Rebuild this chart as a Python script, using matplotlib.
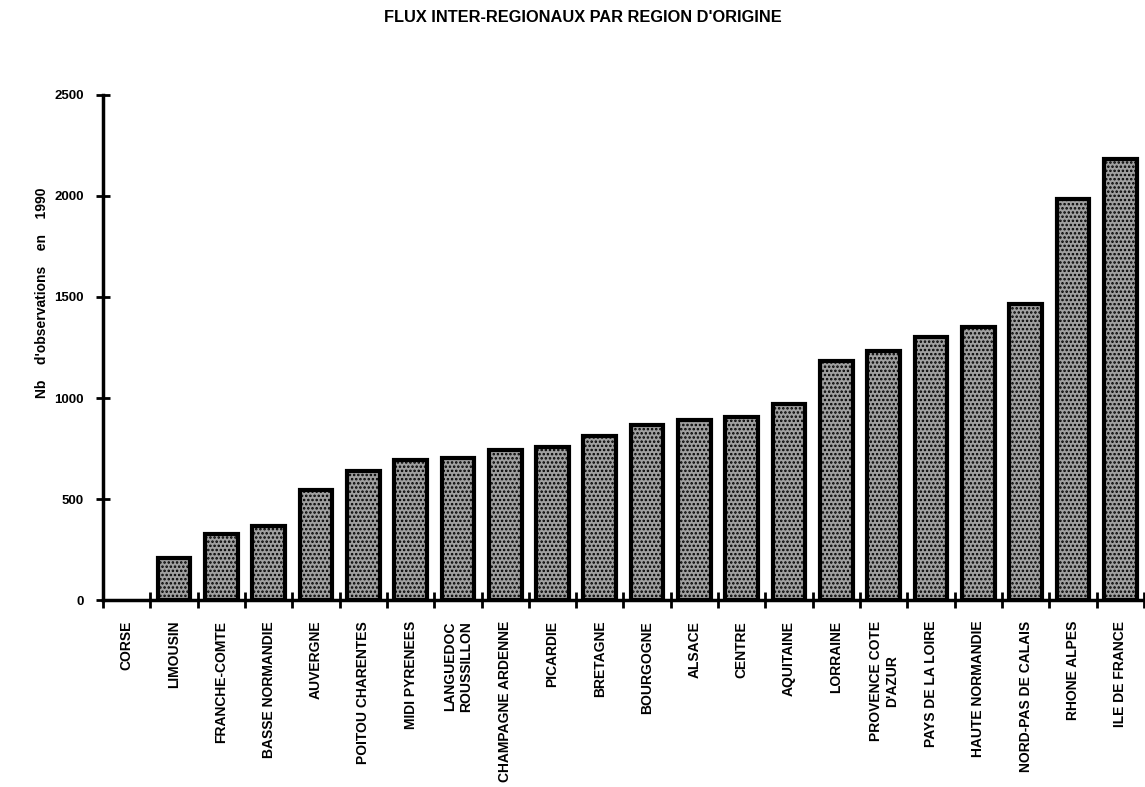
import matplotlib
matplotlib.use("Agg")
import matplotlib.pyplot as plt
import numpy as np

# regions, sorted by number of observations
regions = ["CORSE", "LIMOUSIN", "FRANCHE-COMTE", "BASSE NORMANDIE", "AUVERGNE",
           "POITOU CHARENTES", "MIDI PYRENEES", "LANGUEDOC\nROUSSILLON",
           "CHAMPAGNE ARDENNE", "PICARDIE", "BRETAGNE", "BOURGOGNE", "ALSACE",
           "CENTRE", "AQUITAINE", "LORRAINE", "PROVENCE COTE\nD'AZUR",
           "PAYS DE LA LOIRE", "HAUTE NORMANDIE", "NORD-PAS DE CALAIS",
           "RHONE ALPES", "ILE DE FRANCE"]
flux = [0, 210, 328, 365, 545, 638, 693, 703, 743, 757, 812, 866, 891, 905,
        970, 1183, 1233, 1302, 1351, 1465, 1985, 2183]
yticks = [0, 500, 1000, 1500, 2000, 2500]

plt.rcParams['font.family'] = ['Liberation Sans', 'DejaVu Sans']
plt.rcParams['hatch.linewidth'] = 1.2

fig = plt.figure(figsize=(11.45, 7.87), dpi=100)
ax = fig.add_axes([0.090, 0.2376, 0.909, 0.6417])

x = np.arange(len(regions))
# no outline for an empty bar (CORSE)
lw = [3 if v > 0 else 0 for v in flux]
ax.bar(x, flux, width=0.69, color="#a0a0a0", edgecolor="black", linewidth=lw,
       hatch="....")

ax.set_xlim(-0.5, len(regions) - 0.5)
ax.set_ylim(0, 2500)

for side in ["top", "right"]:
    ax.spines[side].set_visible(False)
ax.spines["left"].set_linewidth(2.5)
ax.spines["bottom"].set_linewidth(2.5)

# y axis
ax.set_yticks(yticks)
ax.set_yticklabels([str(v) for v in yticks], fontweight="bold", fontsize=9.5)
ax.tick_params(axis="y", direction="inout", length=10, width=2, pad=9)

# x axis: tick marks between the bars, labels under the bars
ax.set_xticks(np.arange(-0.5, len(regions)), minor=True)
ax.tick_params(axis="x", which="minor", direction="inout", length=12, width=2)
ax.set_xticks(x)
ax.set_xticklabels(regions, rotation=90, va="top", ha="center",
                   multialignment="center", fontsize=10, fontweight="bold",
                   family=['Liberation Sans Narrow', 'Liberation Sans', 'DejaVu Sans'])
ax.tick_params(axis="x", which="major", length=0, pad=15)

ax.set_ylabel("Nb    d'observations    en    1990", fontweight="bold",
              fontsize=10)
ax.yaxis.set_label_coords(-0.052, 0.608)

fig.text(0.509, 0.978, "FLUX INTER-REGIONAUX PAR REGION D'ORIGINE",
         ha="center", va="center", fontweight="bold", fontsize=11.8)

fig.savefig("out.png", dpi=100, facecolor="white")
